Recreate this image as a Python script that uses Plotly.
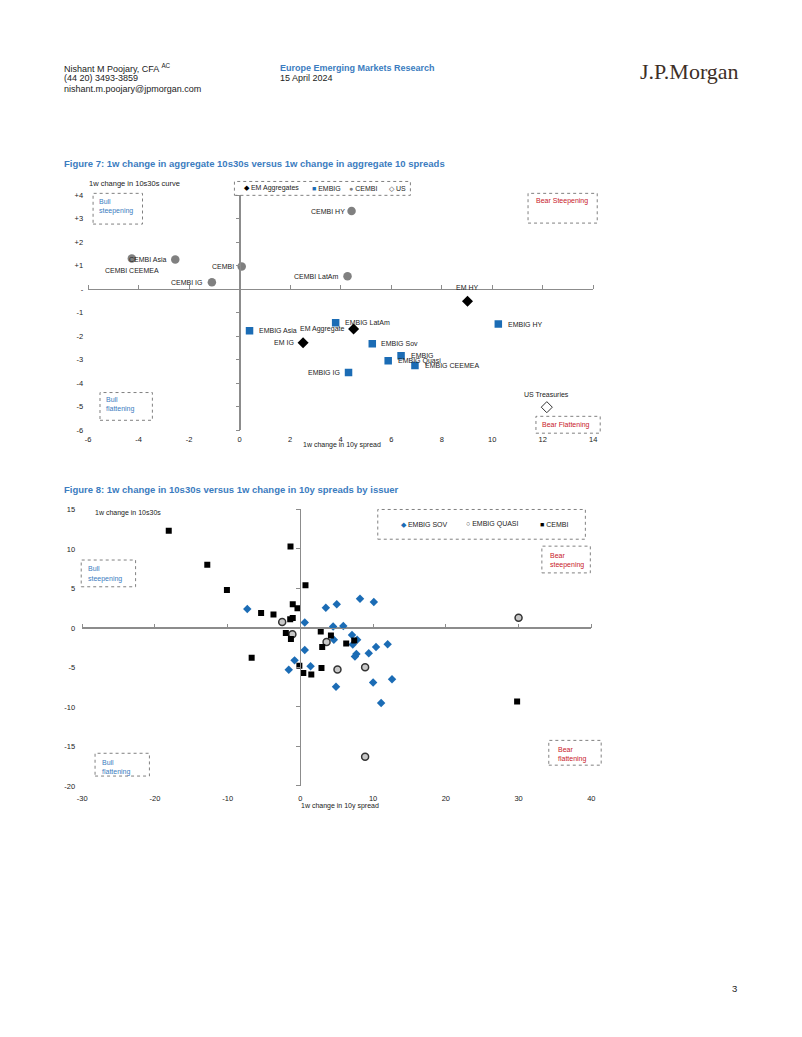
import plotly.graph_objects as go

OFFX, OFFY = 8, 8  # default body margin of the html page
W, H = 786, 1000
SANS = "Liberation Sans, Arial, sans-serif"
FONT = SANS
BLUE = "#1b6cb5"
TITLE_BLUE = "#3b7cc0"
RED = "#c8202a"
GRAY = "#808080"
AXIS = "#8c8c8c"

# ---------------- Figure 7 data ----------------
agg_names = ["EM HY", "EM Aggregate", "EM IG"]
agg_x = [9.02, 4.51, 2.51]
agg_y = [-0.51, -1.69, -2.28]

embig_names = ["EMBIG LatAm", "EMBIG HY", "EMBIG Asia", "EMBIG Sov", "EMBIG",
               "EMBIG Quasi", "EMBIG CEEMEA", "EMBIG IG"]
embig_x = [3.80, 10.24, 0.39, 5.25, 6.39, 5.88, 6.94, 4.31]
embig_y = [-1.43, -1.48, -1.77, -2.32, -2.83, -3.04, -3.25, -3.54]

cembi_names = ["CEMBI HY", "CEMBI Asia", "CEMBI CEEMEA", "CEMBI", "CEMBI LatAm", "CEMBI IG"]
cembi_x = [4.43, -2.55, -4.27, 0.08, 4.27, -1.10]
cembi_y = [3.33, 1.27, 1.31, 0.97, 0.55, 0.30]

us_names = ["US Treasuries"]
us_x = [12.16]
us_y = [-5.02]

f7_xticks = [-6, -4, -2, 0, 2, 4, 6, 8, 10, 12, 14]
f7_yticks = [-6, -5, -4, -3, -2, -1, 0, 1, 2, 3, 4]
f7_yticklabels = ["-6", "-5", "-4", "-3", "-2", "-1", "-", "+1", "+2", "+3", "+4"]

# ---------------- Figure 8 data ----------------
sov_x = [-7.3, 3.5, 5.0, 8.2, 10.1, 0.6, 4.5, 5.9, 4.6, 7.1, 7.2, 7.8, 10.4, 12.0,
         0.6, 9.4, 7.7, 7.5, -0.8, -1.6, 1.4, 4.9, 10.0, 12.6, 11.1]
sov_y = [2.4, 2.55, 3.0, 3.7, 3.3, 0.7, 0.2, 0.25, -1.5, -0.9, -2.1, -1.5, -2.4, -2.05,
         -2.8, -3.2, -3.3, -3.6, -4.1, -5.3, -4.85, -7.45, -6.9, -6.5, -9.5]

quasi_x = [-2.5, -1.1, 3.6, 5.1, 8.9, 30.0, 8.9]
quasi_y = [0.75, -0.8, -1.76, -5.27, -4.98, 1.3, -16.3]

cembi2_x = [-18.1, -12.8, -10.1, -1.36, 0.7, -1.05, -0.4, -5.4, -3.7, -1.4, -1.05, -2.0,
            -1.3, 2.8, 4.2, 3.0, 6.3, 7.4, -6.7, -0.14, 0.4, 1.5, 2.9, 29.8]
cembi2_y = [12.3, 8.0, 4.8, 10.3, 5.4, 3.0, 2.5, 1.9, 1.7, 1.1, 1.25, -0.63,
            -1.4, -0.46, -0.96, -2.4, -1.97, -1.6, -3.76, -4.77, -5.7, -5.9, -5.06, -9.3]

f8_xticks = [-30, -20, -10, 0, 10, 20, 30, 40]
f8_yticks = [-20, -15, -10, -5, 0, 5, 10, 15]


def px(x):
    return (x - OFFX) / W


def py(y):
    return 1 - (y - OFFY) / H


# plot areas (page pixels)
F7 = dict(l=84, r=595, t=193, b=430)
F8 = dict(l=78, r=593, t=510, b=789)
f7_xr, f7_yr = [-6, 14], [-6, 4]
f8_xr, f8_yr = [-30, 40], [-20, 15]

dom7x = [px(F7["l"]), px(F7["r"])]
dom7y = [py(F7["b"]), py(F7["t"])]
dom8x = [px(F8["l"]), px(F8["r"])]
dom8y = [py(F8["b"]), py(F8["t"])]


def zero_pos(rng, dom):
    return dom[0] + (0 - rng[0]) / (rng[1] - rng[0]) * (dom[1] - dom[0])


fig = go.Figure()

# Figure 7 traces
fig.add_trace(go.Scatter(x=agg_x, y=agg_y, mode="markers", name="EM Aggregates",
                         marker=dict(symbol="diamond", size=8.5, color="black"),
                         xaxis="x", yaxis="y", showlegend=False))
fig.add_trace(go.Scatter(x=embig_x, y=embig_y, mode="markers", name="EMBIG",
                         marker=dict(symbol="square", size=7.5, color=BLUE),
                         xaxis="x", yaxis="y", showlegend=False))
fig.add_trace(go.Scatter(x=cembi_x, y=cembi_y, mode="markers", name="CEMBI",
                         marker=dict(symbol="circle", size=8.5, color=GRAY),
                         xaxis="x", yaxis="y", showlegend=False))
fig.add_trace(go.Scatter(x=us_x, y=us_y, mode="markers", name="US",
                         marker=dict(symbol="diamond-open", size=8.5, color="#333333",
                                     line=dict(width=1)),
                         xaxis="x", yaxis="y", showlegend=False))

# Figure 8 traces
fig.add_trace(go.Scatter(x=sov_x, y=sov_y, mode="markers", name="EMBIG SOV",
                         marker=dict(symbol="diamond", size=6.5, color=BLUE),
                         xaxis="x2", yaxis="y2", showlegend=False))
fig.add_trace(go.Scatter(x=quasi_x, y=quasi_y, mode="markers", name="EMBIG QUASI",
                         marker=dict(symbol="circle", size=7, color="#c8c8c8",
                                     line=dict(color="#333333", width=1.5)),
                         xaxis="x2", yaxis="y2", showlegend=False))
fig.add_trace(go.Scatter(x=cembi2_x, y=cembi2_y, mode="markers", name="CEMBI",
                         marker=dict(symbol="square", size=6, color="black"),
                         xaxis="x2", yaxis="y2", showlegend=False))

# empty traces so the zero-crossing axes are drawn
for xa, ya in [("x3", "y3"), ("x4", "y4")]:
    fig.add_trace(go.Scatter(x=[None], y=[None], mode="markers", xaxis=xa, yaxis=ya,
                             showlegend=False, hoverinfo="skip"))

base_axis = dict(showline=False, showgrid=False, ticks="",
                 zeroline=True, zerolinecolor=AXIS, zerolinewidth=1,
                 tickfont=dict(family=FONT, size=7.5, color="#222"), fixedrange=True)


def cross_axis(dom, rng, over, pos, side, tv):
    return dict(domain=dom, range=rng, anchor="free", overlaying=over, position=pos,
                side=side, showline=True, linecolor=AXIS, linewidth=1, ticks="outside",
                ticklen=4, tickcolor=AXIS, tickvals=tv, showticklabels=False,
                showgrid=False, zeroline=False, fixedrange=True)


layout = dict(
    width=W, height=H, autosize=False,
    margin=dict(l=0, r=0, t=0, b=0),
    paper_bgcolor="white", plot_bgcolor="rgba(0,0,0,0)",
    showlegend=False,
    font=dict(family=FONT, color="#222"),
    xaxis=dict(base_axis, domain=dom7x, range=f7_xr, anchor="y", ticklabelstandoff=3,
               tickvals=f7_xticks, ticktext=[str(v) for v in f7_xticks]),
    yaxis=dict(base_axis, domain=dom7y, range=f7_yr, anchor="x", ticklabelstandoff=4,
               tickvals=f7_yticks, ticktext=f7_yticklabels),
    xaxis2=dict(base_axis, domain=dom8x, range=f8_xr, anchor="y2", ticklabelstandoff=7,
                tickvals=f8_xticks, ticktext=[str(v) for v in f8_xticks]),
    yaxis2=dict(base_axis, domain=dom8y, range=f8_yr, anchor="x2", ticklabelstandoff=6,
                tickvals=f8_yticks, ticktext=[str(v) for v in f8_yticks]),
    xaxis3=cross_axis(dom7x, f7_xr, "x", zero_pos(f7_yr, dom7y), "top", f7_xticks),
    yaxis3=cross_axis(dom7y, f7_yr, "y", zero_pos(f7_xr, dom7x), "left", f7_yticks),
    xaxis4=cross_axis(dom8x, f8_xr, "x2", zero_pos(f8_yr, dom8y), "top", f8_xticks),
    yaxis4=cross_axis(dom8y, f8_yr, "y2", zero_pos(f8_xr, dom8x), "left", f8_yticks),
)

ann = []
shapes = []
SMALL = 7


def text(x, y, s, size=SMALL, color="#222", anchor="left", family=FONT, yanchor="middle"):
    ann.append(dict(x=px(x), y=py(y), xref="paper", yref="paper", text=s, showarrow=False,
                    xanchor=anchor, yanchor=yanchor,
                    font=dict(size=size, color=color, family=family)))


def box(x0, y0, x1, y1):
    shapes.append(dict(type="rect", xref="paper", yref="paper",
                       x0=px(x0), x1=px(x1), y0=py(y1), y1=py(y0),
                       line=dict(color="#808080", width=1, dash="dot"),
                       fillcolor="rgba(0,0,0,0)"))


# header
text(58, 65, "Nishant M Poojary, CFA <sup>AC</sup>", size=9)
text(58, 75, "(44 20) 3493-3859", size=9)
text(58, 86, "nishant.m.poojary@jpmorgan.com", size=9)
text(276, 65, "<b>Europe Emerging Markets Research</b>", size=9, color=TITLE_BLUE)
text(276, 75, "15 April 2024", size=9)
text(640, 68, "J.P.Morgan", size=22, color="#3d2f27",
     family="Liberation Serif, Times New Roman, serif")
text(742, 993, "3", size=9.5, anchor="right")

# titles
text(58, 161, "<b>Figure 7: 1w change in aggregate 10s30s versus 1w change in aggregate 10 spreads</b>",
     size=9.5, color=TITLE_BLUE)
text(58, 490, "<b>Figure 8: 1w change in 10s30s versus 1w change in 10y spreads by issuer</b>",
     size=9.5, color=TITLE_BLUE)

# axis titles
text(83, 181, "1w change in 10s30s curve", size=7.5)
text(299, 445, "1w change in 10y spread", size=7)
text(89, 514, "1w change in 10s30s", size=7)
text(297, 809, "1w change in 10y spread", size=7)

# Figure 7 legend
box(232, 179, 410, 193)
text(240, 186, "<span style='color:black'>◆</span> EM Aggregates", size=SMALL)
text(308, 186, "<span style='color:%s'>■</span> EMBIG" % BLUE, size=SMALL)
text(346, 186, "<span style='color:%s'>●</span> CEMBI" % GRAY, size=SMALL)
text(386, 186, "<span style='color:#333'>◇</span> US", size=SMALL)

# Figure 8 legend
box(377, 510, 587, 540)
text(398, 525, "<span style='color:%s'>◆</span> EMBIG SOV" % BLUE, size=SMALL)
text(464, 525, "<span style='color:#333'>○</span> EMBIG QUASI", size=SMALL)
text(539, 525, "<span style='color:black'>■</span> CEMBI", size=SMALL)

# quadrant boxes, Figure 7
box(89, 191, 139, 222)
text(93, 199, "Bull", color=TITLE_BLUE)
text(93, 209, "steepening", color=TITLE_BLUE)
box(529, 191, 599, 221)
text(535, 199, "Bear Steepening", color=RED)
box(96, 392, 149, 420)
text(100, 399, "Bull", color=TITLE_BLUE)
text(100, 409, "flattening", color=TITLE_BLUE)
box(537, 416, 602, 433)
text(541, 425, "Bear Flattening", color=RED)

# quadrant boxes, Figure 8
box(77, 561, 132, 588)
text(82, 570, "Bull", color=TITLE_BLUE)
text(82, 580, "steepening", color=TITLE_BLUE)
box(543, 547, 592, 574)
text(549, 556, "Bear", color=RED)
text(549, 566, "steepening", color=RED)
box(91, 756, 146, 779)
text(96, 765, "Bull", color=TITLE_BLUE)
text(96, 775, "flattening", color=TITLE_BLUE)
box(550, 743, 603, 768)
text(557, 752, "Bear", color=RED)
text(557, 762, "flattening", color=RED)

# point labels for Figure 7 (placement: xanchor, xshift, yshift)
placement = {
    "CEMBI HY": ("right", -5, 0), "CEMBI Asia": ("right", -7, 0),
    "CEMBI CEEMEA": ("center", 0, -12), "CEMBI": ("right", -6, 0),
    "CEMBI LatAm": ("right", -7, 0), "CEMBI IG": ("right", -7, 0),
    "EM HY": ("center", 0, 14), "EM Aggregate": ("right", -8, 0), "EM IG": ("right", -7, 0),
    "EMBIG LatAm": ("left", 7, 0), "EMBIG HY": ("left", 8, 0), "EMBIG Asia": ("left", 7, 0),
    "EMBIG Sov": ("left", 7, 0), "EMBIG": ("left", 8, 0), "EMBIG Quasi": ("left", 8, 0),
    "EMBIG CEEMEA": ("left", 8, 0), "EMBIG IG": ("right", -7, 0),
    "US Treasuries": ("center", 0, 13),
}
for names, xs, ys in [(cembi_names, cembi_x, cembi_y), (agg_names, agg_x, agg_y),
                      (embig_names, embig_x, embig_y), (us_names, us_x, us_y)]:
    for n, xv, yv in zip(names, xs, ys):
        xa, xs_, ys_ = placement[n]
        ann.append(dict(x=xv, y=yv, xref="x", yref="y", text=n, showarrow=False,
                        xanchor=xa, yanchor="middle", xshift=xs_, yshift=ys_,
                        font=dict(size=SMALL, color="#222", family=FONT)))

layout["annotations"] = ann
layout["shapes"] = shapes
fig.update_layout(**layout)

fig.write_html("out.html", config={"displayModeBar": False})
